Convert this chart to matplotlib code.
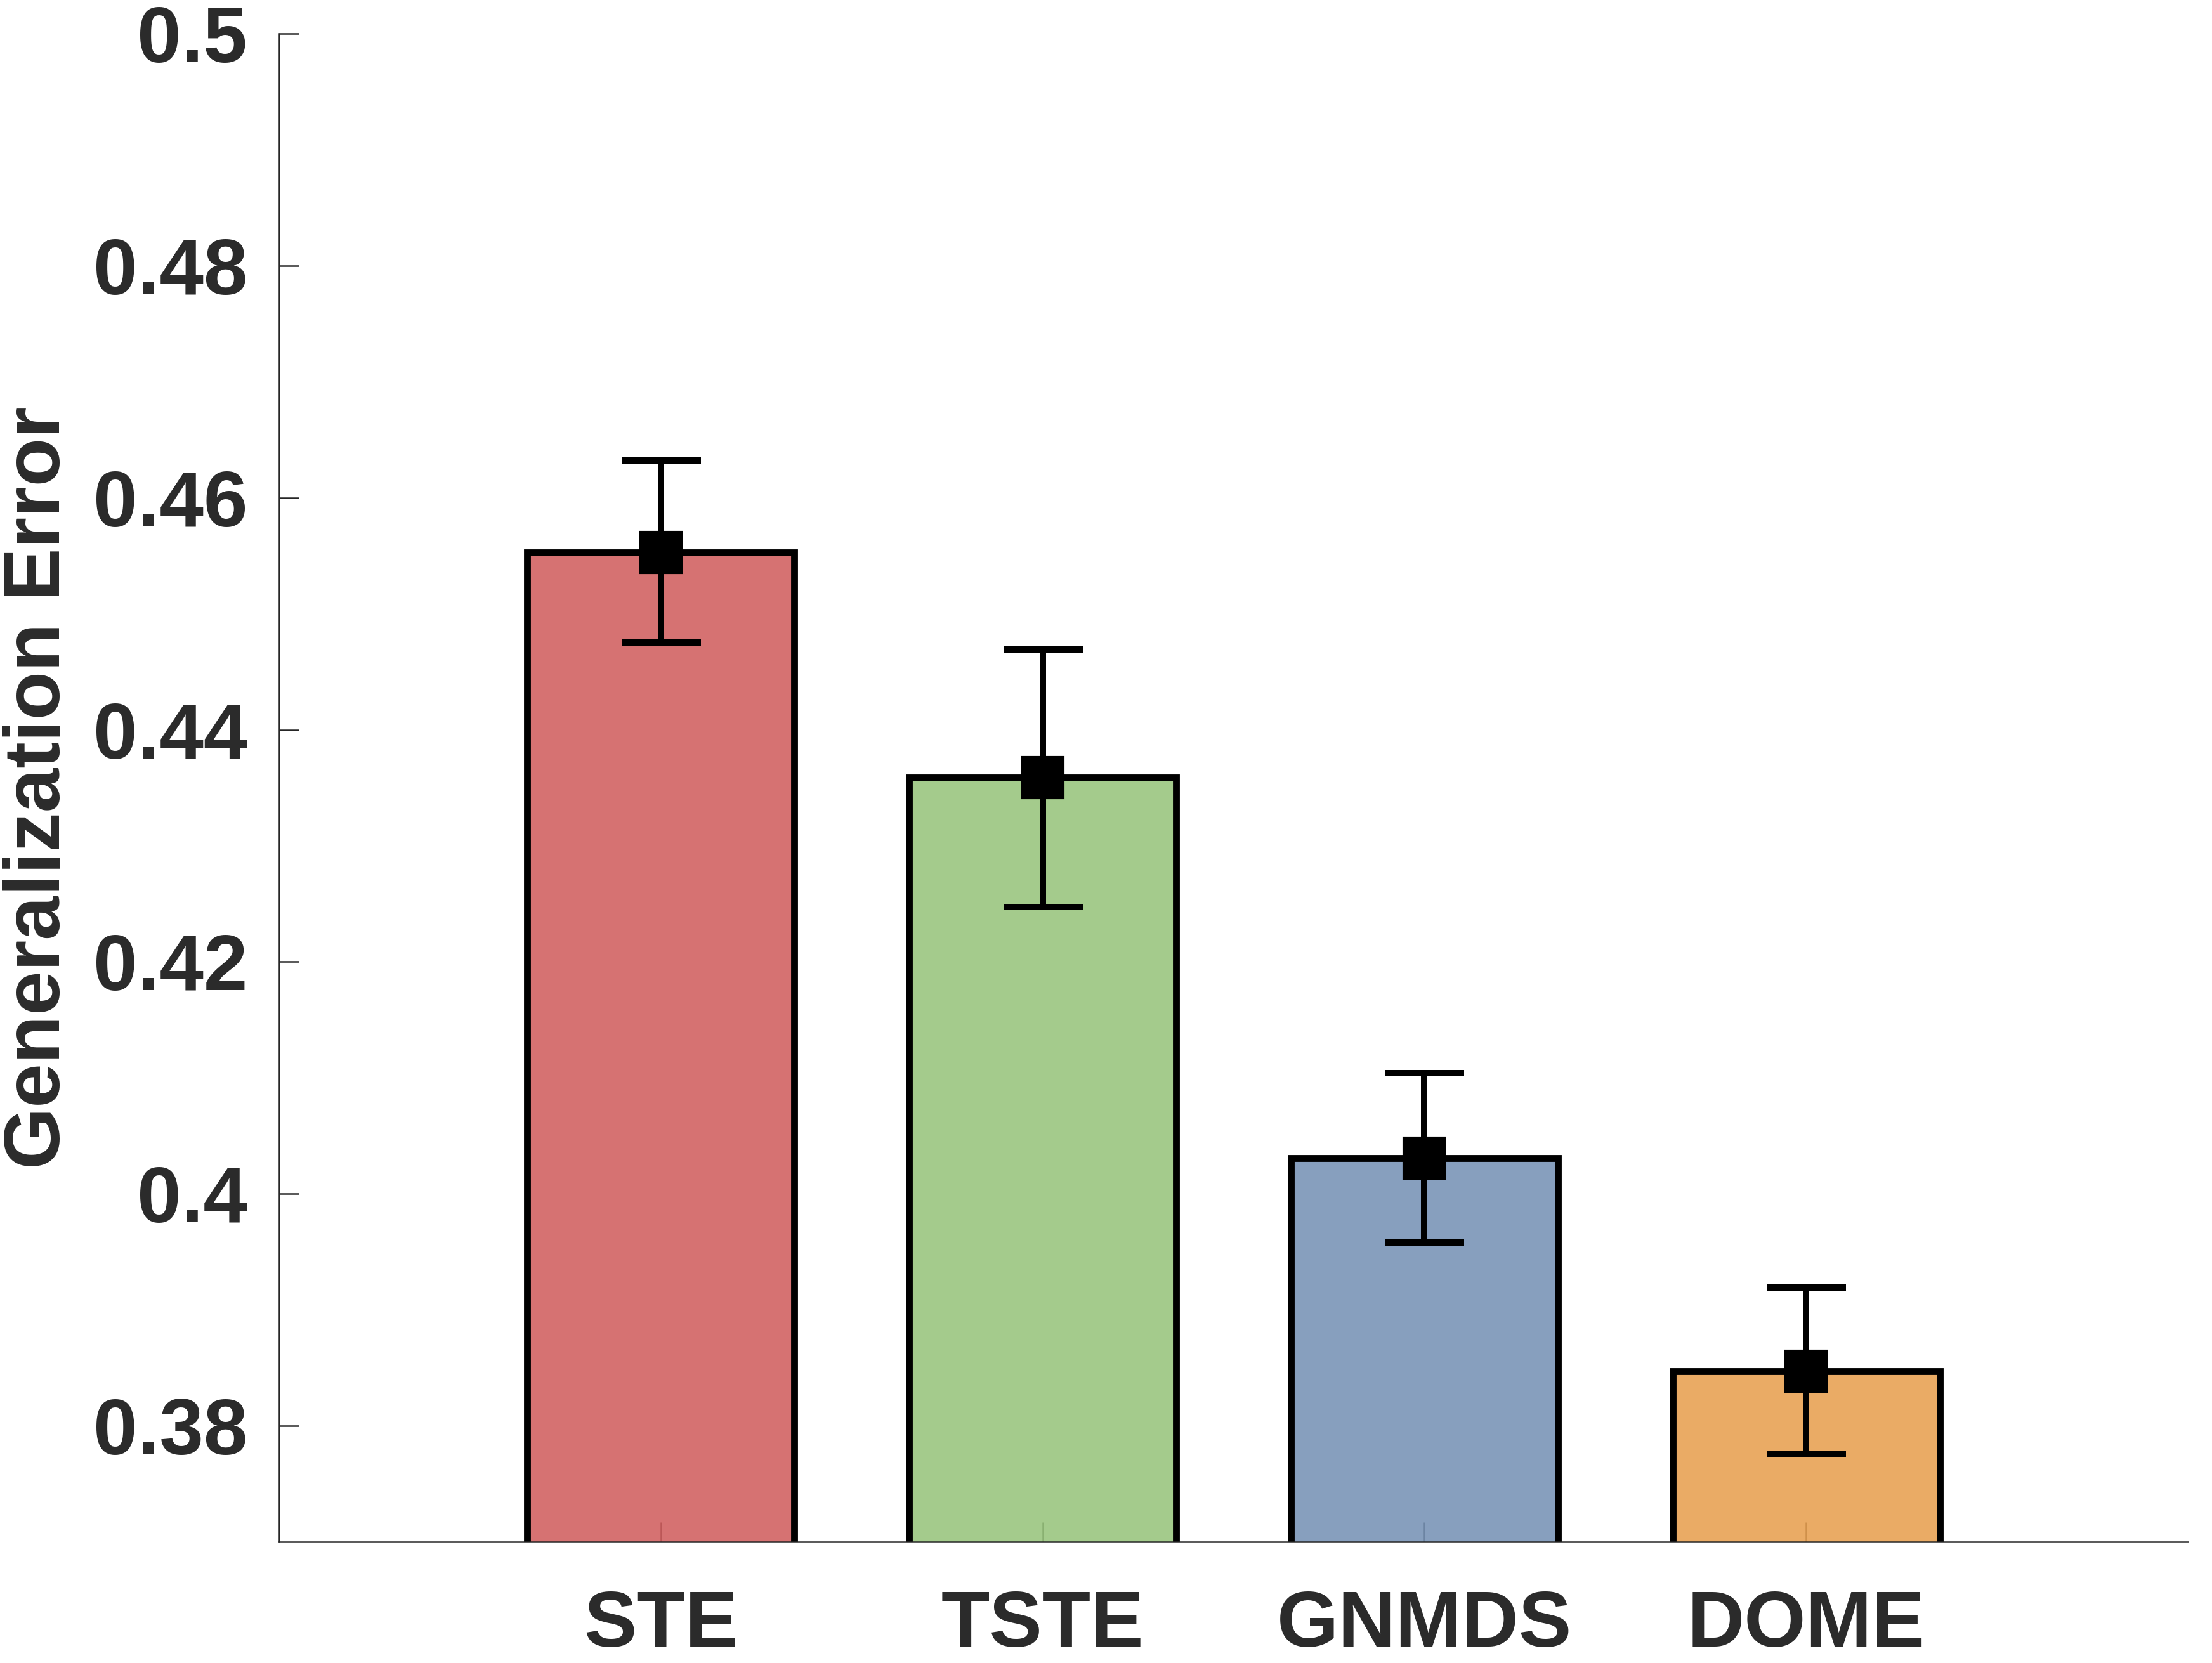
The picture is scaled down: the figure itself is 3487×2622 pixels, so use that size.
import matplotlib
matplotlib.use("Agg")
import matplotlib.pyplot as plt
import matplotlib.colors as mcolors
import numpy as np

methods = ["STE", "TSTE", "GNMDS", "DOME"]
means = [0.4553, 0.4359, 0.4031, 0.3847]
err_low = [0.4475, 0.4247, 0.3958, 0.3776]
err_high = [0.4632, 0.4469, 0.4104, 0.3919]
colors = ["#D15E5E", "#98C47C", "#7792B5", "#E8A050"]
yticks = [0.38, 0.40, 0.42, 0.44, 0.46, 0.48, 0.50]
ytick_labels = ["0.38", "0.4", "0.42", "0.44", "0.46", "0.48", "0.5"]

plt.rcParams['font.family'] = ['Liberation Sans', 'DejaVu Sans']
plt.rcParams['font.weight'] = 'bold'

W, H, DPI = 3487, 2622, 300
fig = plt.figure(figsize=(W / DPI, H / DPI), dpi=DPI)
ax = fig.add_axes([440 / W, 1 - 2431 / H, (3449 - 440) / W, (2431 - 53) / H])

x = np.arange(1, len(methods) + 1)
means_a = np.array(means)
yerr = np.vstack([means_a - np.array(err_low), np.array(err_high) - means_a])

faces = [mcolors.to_rgba(c, 0.88) for c in colors]

ax.set_axisbelow(True)
ax.bar(x, means, width=0.7, color=faces, edgecolor="black",
       linewidth=2.6, zorder=2)
ax.errorbar(x, means, yerr=yerr, fmt="s", color="black", ecolor="black",
            elinewidth=2.4, capsize=15, capthick=2.4, markersize=15.5,
            zorder=3)

ax.set_xlim(0, 5)
ax.set_ylim(0.37, 0.50)
ax.set_xticks(x)
ax.set_xticklabels(methods)
ax.set_yticks(yticks)
ax.set_yticklabels(ytick_labels)

txt = "#2B2B2B"
for s in ["top", "right"]:
    ax.spines[s].set_visible(False)
for s in ["left", "bottom"]:
    ax.spines[s].set_color("#262626")
    ax.spines[s].set_linewidth(0.6)

ax.tick_params(axis="both", direction="in", length=7.5, width=0.6,
               color="#262626", labelsize=30, labelcolor=txt)
ax.tick_params(axis="y", pad=12)
ax.tick_params(axis="x", pad=18)
for lab in ax.get_xticklabels() + ax.get_yticklabels():
    lab.set_fontweight("bold")

ax.set_ylabel("Generalization Error", fontsize=30, fontweight="bold",
              color=txt, va="center")
ax.yaxis.set_label_coords(-0.1256, 0.5)

fig.savefig("out.png", dpi=DPI, facecolor="white")
